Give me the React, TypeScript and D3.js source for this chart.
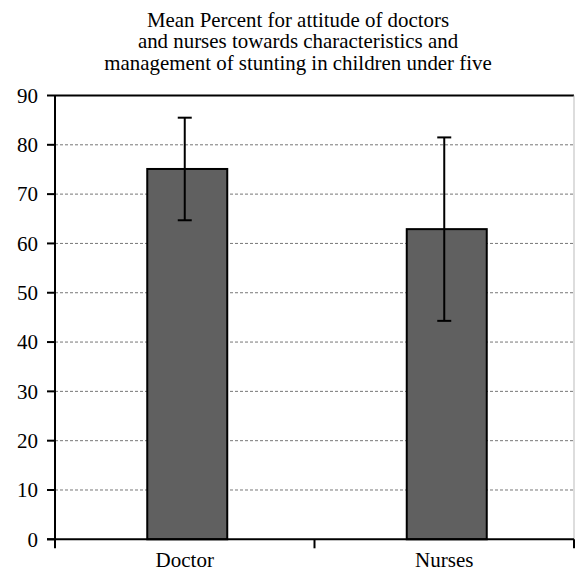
import React from 'react';
import * as d3 from 'd3';

const categories = ['Doctor', 'Nurses'];
const means = [75.1, 62.9];
const sds = [10.4, 18.6];
const yTicks = [0, 10, 20, 30, 40, 50, 60, 70, 80, 90];
const titleLines = [
  'Mean Percent for attitude of doctors',
  'and nurses towards characteristics and',
  'management of stunting in children under five',
];

export default function App() {
  const width = 576;
  const height = 571;
  const margin = { top: 95.5, right: 2, bottom: 31.7, left: 55 };
  const plotW = width - margin.left - margin.right;
  const plotH = height - margin.top - margin.bottom;

  const x = d3.scaleBand().domain(categories).range([0, plotW]);
  const y = d3.scaleLinear().domain([0, 90]).range([plotH, 0]);
  const barW = 80;
  const font = '"Liberation Serif", "Times New Roman", serif';

  return (
    <svg width={width} height={height} style={{ position: 'absolute', left: 0, top: 0 }}>
      <rect width={width} height={height} fill="#fff" />
      {titleLines.map((t, i) => (
        <text key={i} x={298} y={27 + i * 21.3} textAnchor="middle" fontFamily={font} fontSize={20.9} fill="#000">
          {t}
        </text>
      ))}
      <g transform={`translate(${margin.left},${margin.top})`}>
        {/* gridlines */}
        {yTicks.filter((t) => t > 0 && t < 90).map((t) => (
          <line key={t} x1={0} x2={plotW} y1={y(t)} y2={y(t)} stroke="#777" strokeWidth={1} strokeDasharray="3,2" />
        ))}
        {/* top border and right border */}
        <line x1={0} x2={plotW} y1={0} y2={0} stroke="#000" strokeWidth={2} />
        <line x1={plotW} x2={plotW} y1={0} y2={plotH} stroke="#bbb" strokeWidth={1} />
        {/* bars */}
        {categories.map((c, i) => {
          const cx = x(c)! + x.bandwidth() / 2;
          return (
            <rect key={c} x={cx - barW / 2 + 2.5} y={y(means[i])} width={barW} height={plotH - y(means[i])}
              fill="#606060" stroke="#000" strokeWidth={2} />
          );
        })}
        {/* error bars */}
        {categories.map((c, i) => {
          const cx = x(c)! + x.bandwidth() / 2;
          const hi = y(means[i] + sds[i]);
          const lo = y(means[i] - sds[i]);
          return (
            <g key={c} stroke="#000" strokeWidth={2}>
              <line x1={cx} x2={cx} y1={hi} y2={lo} />
              <line x1={cx - 7} x2={cx + 7} y1={hi} y2={hi} />
              <line x1={cx - 7} x2={cx + 7} y1={lo} y2={lo} />
            </g>
          );
        })}
        {/* y axis */}
        <line x1={0} x2={0} y1={0} y2={plotH} stroke="#000" strokeWidth={2} />
        {yTicks.map((t) => (
          <g key={t} transform={`translate(0,${y(t)})`}>
            <line x1={-8} x2={0} stroke="#000" strokeWidth={2} />
            <text x={-17} dy="0.35em" textAnchor="end" fontFamily={font} fontSize={21} fill="#000">{t}</text>
          </g>
        ))}
        {/* x axis */}
        <line x1={-8} x2={plotW} y1={plotH} y2={plotH} stroke="#000" strokeWidth={2} />
        {[0, ...categories.map((c) => x(c)! + x.bandwidth())].map((px, i) => (
          <line key={i} x1={px} x2={px} y1={plotH} y2={plotH + 9} stroke="#000" strokeWidth={2} />
        ))}
        {categories.map((c) => (
          <text key={c} x={x(c)! + x.bandwidth() / 2} y={plotH + 28} textAnchor="middle" fontFamily={font} fontSize={21} fill="#000">
            {c}
          </text>
        ))}
      </g>
    </svg>
  );
}
